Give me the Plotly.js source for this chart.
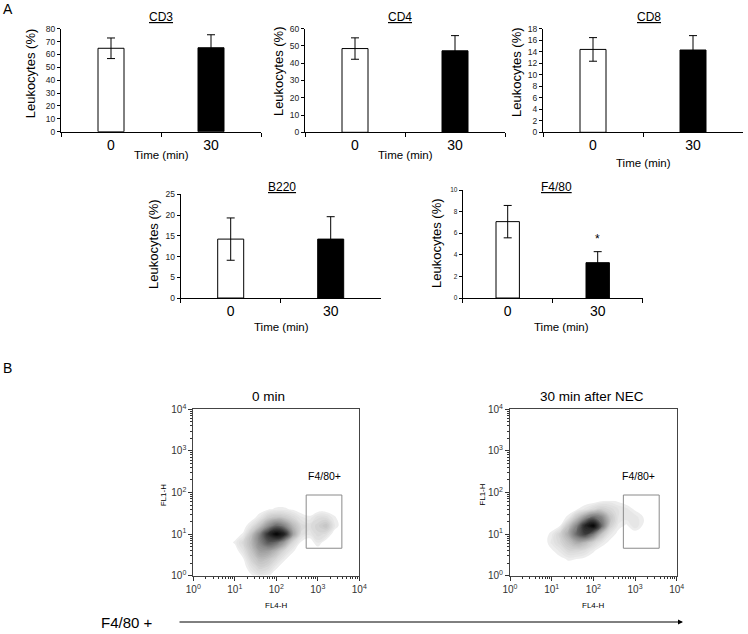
<!DOCTYPE html>
<html><head><meta charset="utf-8">
<script src="https://cdn.plot.ly/plotly-3.0.1.min.js"></script>
<style>html,body{margin:0;padding:0;background:#fff}#chart{width:748px;height:634px}</style>
</head><body><div id="chart"></div>
<script>
// ---------- DATA ----------
const timeCats = ['0', '30'];
const cd3Mean = [64.8, 65.2];  const cd3Err = [8.0, 10.1];
const cd4Mean = [48.5, 47.2];  const cd4Err = [6.2, 8.8];
const cd8Mean = [14.4, 14.3];  const cd8Err = [2.05, 2.5];
const b220Mean = [14.2, 14.2]; const b220Err = [5.1, 5.4];
const f480Mean = [7.07, 3.27]; const f480Err = [1.5, 1.02];
const f480Sig = ['', '*'];

const decadeTicks = [0, 1, 2, 3, 4];
const decadeLabels = ['10<sup>0</sup>', '10<sup>1</sup>', '10<sup>2</sup>', '10<sup>3</sup>', '10<sup>4</sup>'];

// density grids (log10 units), rows = logY, cols = logX ; values = darkness 0..100
const logX = [0.8, 1.0, 1.2, 1.4, 1.6, 1.8, 2.0, 2.2, 2.4, 2.6, 2.8, 3.0, 3.2, 3.4, 3.6];
const logY = [0, 0.2, 0.4, 0.6, 0.8, 1.0, 1.2, 1.4, 1.6, 1.8];
const dens0 = [
  [0, 0, 0, 3, 8, 5, 0, 0, 0, 0, 0, 0, 0, 0, 0],
  [0, 0, 0, 10, 18, 15, 5, 0, 0, 0, 0, 0, 0, 0, 0],
  [0, 0, 3, 18, 28, 25, 15, 5, 0, 0, 0, 0, 0, 0, 0],
  [0, 0, 10, 25, 40, 40, 30, 15, 5, 0, 0, 0, 0, 0, 0],
  [0, 5, 15, 30, 50, 65, 60, 40, 15, 3, 0, 8, 0, 0, 0],
  [0, 0, 5, 25, 50, 80, 100, 85, 40, 12, 8, 15, 12, 0, 0],
  [0, 0, 0, 10, 25, 45, 60, 50, 30, 15, 12, 18, 25, 8, 0],
  [0, 0, 0, 0, 8, 20, 25, 22, 15, 8, 5, 12, 12, 5, 0],
  [0, 0, 0, 0, 0, 3, 5, 5, 3, 0, 0, 0, 0, 0, 0],
  [0, 0, 0, 0, 0, 0, 0, 0, 0, 0, 0, 0, 0, 0, 0]
];
const dens30 = [
  [0, 0, 0, 0, 0, 0, 0, 0, 0, 0, 0, 0, 0, 0, 0],
  [0, 0, 0, 0, 0, 0, 0, 0, 0, 0, 0, 0, 0, 0, 0],
  [0, 0, 2, 5, 4, 2, 0, 0, 0, 0, 0, 0, 0, 0, 0],
  [0, 3, 8, 15, 15, 12, 5, 0, 0, 0, 0, 0, 0, 0, 0],
  [0, 8, 15, 25, 35, 30, 18, 8, 2, 0, 0, 0, 0, 0, 0],
  [0, 6, 18, 35, 60, 75, 55, 25, 8, 2, 0, 0, 0, 0, 0],
  [0, 0, 4, 25, 50, 85, 100, 60, 20, 6, 3, 10, 3, 0, 0],
  [0, 0, 0, 6, 25, 45, 60, 50, 25, 10, 9, 9, 4, 0, 0],
  [0, 0, 0, 0, 3, 8, 15, 20, 15, 10, 8, 3, 0, 0, 0],
  [0, 0, 0, 0, 0, 0, 0, 3, 5, 3, 0, 0, 0, 0, 0]
];
const gateX = [2.72, 3.58];
const gateY = [0.66, 1.94];

// ---------- LAYOUT HELPERS ----------
const W = 748, H = 634;
const px = x => x / W;
const py = y => 1 - y / H;
const FONT = 'Liberation Sans, Arial, sans-serif';

const panels = [
  {mean: cd3Mean, err: cd3Err, title: 'CD3', x0: 61, x1: 261, yb: 131.7, yt: 28.7, ymax: 80, dtick: 10, tfs: 8.5,
   tpos: [161, 16.7], ypos: [30, 73.3], xpos: [161, 155.3]},
  {mean: cd4Mean, err: cd4Err, title: 'CD4', x0: 305, x1: 505, yb: 132.3, yt: 28.7, ymax: 60, dtick: 10, tfs: 8.5,
   tpos: [400, 16.7], ypos: [278.3, 70.8], xpos: [405.3, 155.3]},
  {mean: cd8Mean, err: cd8Err, title: 'CD8', x0: 543, x1: 743, yb: 132.3, yt: 28.7, ymax: 18, dtick: 2, tfs: 8.5,
   tpos: [649, 16.7], ypos: [516.3, 71.7], xpos: [643, 162.7]},
  {mean: b220Mean, err: b220Err, title: 'B220', x0: 180.7, x1: 380.7, yb: 298, yt: 194.3, ymax: 25, dtick: 5, tfs: 8.5,
   tpos: [282, 187.3], ypos: [152.7, 244.2], xpos: [281.7, 326.7]},
  {mean: f480Mean, err: f480Err, title: 'F4/80', x0: 462.7, x1: 642.7, yb: 298, yt: 190, ymax: 10, dtick: 2, tfs: 6.5,
   tpos: [556.7, 187.3], ypos: [436.7, 243.3], xpos: [561, 326.7]}
];

const traces = [];
const annotations = [];
const shapes = [];
const layout = {
  width: W, height: H,
  margin: {l: 0, r: 0, t: 0, b: 0},
  paper_bgcolor: '#ffffff', plot_bgcolor: 'rgba(0,0,0,0)',
  showlegend: false,
  font: {family: FONT, color: '#000'}
};

function ann(text, x, y, size, extra) {
  annotations.push(Object.assign({
    text: text, xref: 'paper', yref: 'paper', x: px(x), y: py(y),
    xanchor: 'center', yanchor: 'middle', showarrow: false,
    font: {family: FONT, size: size, color: '#000'}
  }, extra || {}));
}

panels.forEach((p, i) => {
  const n = i + 1;
  const s = n === 1 ? '' : String(n);
  traces.push({
    type: 'bar', x: timeCats, y: p.mean, xaxis: 'x' + s, yaxis: 'y' + s,
    width: 0.26,
    marker: {color: ['#ffffff', '#000000'], line: {color: '#000', width: 1}},
    error_y: {type: 'data', array: p.err, visible: true, color: '#000', thickness: 1, width: 4},
    hoverinfo: 'skip'
  });
  layout['xaxis' + s] = {
    domain: [px(p.x0), px(p.x1)], anchor: 'y' + s, type: 'category', range: [-0.5, 1.5],
    showline: true, linecolor: '#000', linewidth: 1,
    ticks: 'outside', tickson: 'boundaries', ticklen: 4, tickcolor: '#000', tickwidth: 1,
    tickfont: {family: FONT, size: 14, color: '#000'},
    showgrid: false, zeroline: false, fixedrange: true
  };
  layout['yaxis' + s] = {
    domain: [py(p.yb), py(p.yt)], anchor: 'x' + s, range: [0, p.ymax], tick0: 0, dtick: p.dtick,
    showline: true, linecolor: '#000', linewidth: 1,
    ticks: 'outside', ticklen: 3, tickcolor: '#000', tickwidth: 1,
    tickfont: {family: FONT, size: p.tfs, color: '#222'},
    showgrid: false, zeroline: false, fixedrange: true
  };
  ann('<u>' + p.title + '</u>', p.tpos[0], p.tpos[1], 12);
  ann('Leukocytes (%)', p.ypos[0], p.ypos[1], 13, {textangle: -90});
  ann('Time (min)', p.xpos[0], p.xpos[1], 11.5);
});

// significance marker on F4/80
f480Sig.forEach((sg, i) => {
  if (!sg) return;
  annotations.push({
    text: sg, xref: 'x5', yref: 'y5', x: i, y: f480Mean[i] + f480Err[i],
    xanchor: 'center', yanchor: 'bottom', yshift: 4, showarrow: false,
    font: {family: FONT, size: 12, color: '#000'}
  });
});

// panel letters
ann('A', 8, 9, 14);
ann('B', 8, 368, 14);

// ---------- DENSITY PLOTS ----------
const grayScale = [
  [0, '#ffffff'], [0.015, '#ffffff'], [0.03, '#ededed'], [0.076, '#e3e3e3'],
  [0.227, '#c4c4c4'], [0.48, '#868686'], [0.73, '#3c3c3c'], [1, '#000000']
];
const minorVals = [];
for (let d = 0; d < 4; d++) for (let k = 2; k <= 9; k++) minorVals.push(d + Math.log10(k));

const dens = [
  {z: dens0, title: '0 min', x0: 193.3, x1: 359.3, tpos: [268.3, 396.7], gl: [3.15, 2.39], fl1: 163.3},
  {z: dens30, title: '30 min after NEC', x0: 510, x1: 676.7, tpos: [591.7, 396.7], gl: [3.08, 2.39], fl1: 481.7}
];
dens.forEach((d, i) => {
  const n = 6 + i;
  traces.push({
    type: 'contour', x: logX, y: logY, z: d.z, xaxis: 'x' + n, yaxis: 'y' + n,
    colorscale: grayScale, showscale: false, autocontour: false,
    contours: {start: 4, end: 100, size: 3, coloring: 'fill', showlines: false},
    line: {width: 0, smoothing: 1.3}, hoverinfo: 'skip'
  });
  const axCommon = {
    range: [0, 4], tickmode: 'array', tickvals: decadeTicks, ticktext: decadeLabels,
    ticks: 'outside', ticklen: 4, tickcolor: '#333', tickwidth: 1,
    showline: true, mirror: true, linecolor: '#444', linewidth: 1,
    tickfont: {family: FONT, size: 10, color: '#333'},
    minor: {tickmode: 'array', tickvals: minorVals, ticks: 'outside', ticklen: 2, tickcolor: '#333', tickwidth: 1, showgrid: false},
    showgrid: false, zeroline: false, fixedrange: true
  };
  layout['xaxis' + n] = Object.assign({domain: [px(d.x0), px(d.x1)], anchor: 'y' + n}, axCommon);
  layout['yaxis' + n] = Object.assign({domain: [py(575.7), py(409.3)], anchor: 'x' + n}, axCommon);
  shapes.push({
    type: 'rect', xref: 'x' + n, yref: 'y' + n,
    x0: gateX[0], x1: gateX[1], y0: gateY[0], y1: gateY[1],
    line: {color: '#8a8a8a', width: 1}, fillcolor: 'rgba(0,0,0,0)'
  });
  annotations.push({
    text: 'F4/80+', xref: 'x' + n, yref: 'y' + n, x: d.gl[0], y: d.gl[1],
    xanchor: 'center', yanchor: 'middle', showarrow: false,
    font: {family: FONT, size: 10.5, color: '#000'}
  });
  ann(d.title, d.tpos[0], d.tpos[1], 13.5);
  ann('FL1-H', d.fl1, 495, 8, {textangle: -90});
  ann('FL4-H', (d.x0 + d.x1) / 2, 605, 8);
});

// bottom arrow
ann('F4/80 +', 127, 622, 15);
annotations.push({
  text: '', xref: 'paper', yref: 'paper', x: px(683), y: py(622),
  ax: -505, ay: 0, showarrow: true, arrowhead: 2, arrowsize: 1, arrowwidth: 1, arrowcolor: '#000'
});

layout.annotations = annotations;
layout.shapes = shapes;

Plotly.newPlot('chart', traces, layout, {staticPlot: true, displayModeBar: false});
</script>
</body></html>
